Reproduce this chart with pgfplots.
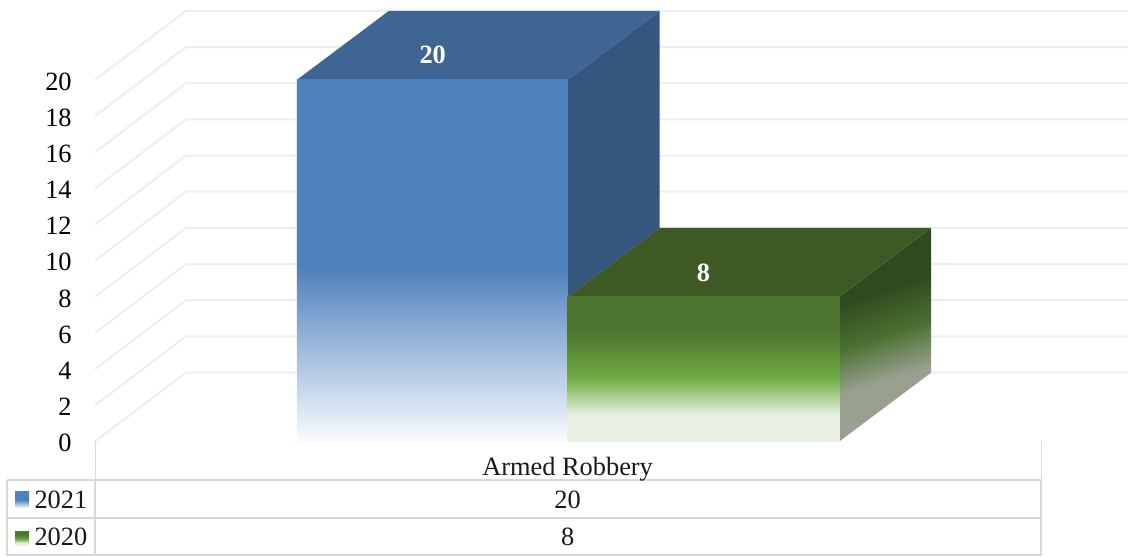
\documentclass[border=0pt]{standalone}
\usepackage{fontspec}
\setmainfont{Liberation Serif}
\usepackage{pgfplots}
\pgfplotsset{compat=1.18}

\definecolor{gridc}{HTML}{EEEEEE}
\definecolor{tablec}{HTML}{D9D9D9}
\definecolor{bluetop}{HTML}{3F6595}
\definecolor{blueside}{HTML}{34567F}
\definecolor{greentop}{HTML}{3D5A25}
\definecolor{bfMain}{HTML}{4F81BD}
\definecolor{bfLow}{HTML}{FAFCFE}
\definecolor{gfTop}{HTML}{4E752F}
\definecolor{gfMid}{HTML}{6FAC43}
\definecolor{gfLow}{HTML}{E8F1E2}
\definecolor{gsDark}{HTML}{2F4A1E}
\definecolor{gsMid}{HTML}{4A7030}
\definecolor{gsLow}{HTML}{9AA08F}

\pgfdeclareverticalshading{bluefront}{100bp}{
  color(0bp)=(bfLow); color(25bp)=(bfLow);
  color(49bp)=(bfMain); color(100bp)=(bfMain)}
\pgfdeclareverticalshading{greenfront}{100bp}{
  color(0bp)=(gfLow); color(34bp)=(gfLow); color(47bp)=(gfMid);
  color(63bp)=(gfTop); color(100bp)=(gfTop)}
\pgfdeclareverticalshading{greenside}{100bp}{
  color(0bp)=(gsLow); color(38bp)=(gsLow); color(50bp)=(gsMid);
  color(62bp)=(gsDark); color(100bp)=(gsDark)}

\begin{document}
\begin{tikzpicture}
\begin{axis}[
  x=0.5pt, y=9.05pt,
  xmin=0, xmax=1129,
  ymin=-6.36, ymax=24.415,
  axis line style={draw=none},
  xtick=\empty,
  ytick={0,2,...,20},
  major tick length=0pt,
  y tick label style={anchor=east, xshift=39.3pt, yshift=-0.8pt},
  tick label style={font=\fontsize{13.2}{15}\selectfont},
  /pgf/number format/assume math mode=true,
  clip=false,
]
% back wall and floor grid, depth offset is 92px / 3.81 units
\addplot[gridc, line width=1pt, unbounded coords=jump, forget plot] coordinates {
  (95,20) (186,23.81) (1129,23.81) (95,nan)
  (95,18) (186,21.81) (1129,21.81) (95,nan)
  (95,16) (186,19.81) (1129,19.81) (95,nan)
  (95,14) (186,17.81) (1129,17.81) (95,nan)
  (95,12) (186,15.81) (1129,15.81) (95,nan)
  (95,10) (186,13.81) (1129,13.81) (95,nan)
  (95,8) (186,11.81) (1129,11.81) (95,nan)
  (95,6) (186,9.81) (1129,9.81) (95,nan)
  (95,4) (186,7.81) (1129,7.81) (95,nan)
  (95,2) (186,5.81) (1129,5.81) (95,nan)
  (95,0) (186,3.81) (1129,3.81)
};
% 2021
\addplot[draw=none, fill=blueside] coordinates {(568,20) (660,23.81) (660,11.81) (568,8)} -- cycle;
\addplot[draw=none, fill=bluetop] coordinates {(297,20) (568,20) (660,23.81) (389,23.81)} -- cycle;
\addplot[draw=none, shading=bluefront] coordinates {(297,0) (568,0) (568,20) (297,20)} -- cycle;
% 2020
\addplot[draw=none, shading=greenside, shading angle=18] coordinates {(840,0) (932,3.81) (932,11.81) (840,8)} -- cycle;
\addplot[draw=none, fill=greentop] coordinates {(568,8) (840,8) (932,11.81) (660,11.81)} -- cycle;
\addplot[draw=none, shading=greenfront] coordinates {(568,0) (840,0) (840,8) (568,8)} -- cycle;

\node[text=white, font=\fontsize{13.2}{15}\selectfont\bfseries] at (axis cs:433,21.38) {20};
\node[text=white, font=\fontsize{13.2}{15}\selectfont\bfseries] at (axis cs:704,9.337) {8};

% data table under the chart
\draw[tablec, line width=0.5pt] (axis cs:95,0) -- (axis cs:95,-2.155);
\draw[tablec, line width=0.5pt] (axis cs:1042,0) -- (axis cs:1042,-2.155);
\draw[tablec, line width=1pt] (axis cs:7,-2.155) -- (axis cs:1042,-2.155);
\draw[tablec, line width=1pt] (axis cs:7,-4.254) -- (axis cs:1042,-4.254);
\draw[tablec, line width=1pt] (axis cs:7,-6.3) -- (axis cs:1042,-6.3);
\draw[tablec, line width=1pt] (axis cs:7,-2.155) -- (axis cs:7,-6.3);
\draw[tablec, line width=1pt] (axis cs:95,-2.155) -- (axis cs:95,-6.3);
\draw[tablec, line width=1pt] (axis cs:1042,-2.155) -- (axis cs:1042,-6.3);

\path[shading=bluefront] (axis cs:15,-2.78) rectangle (axis cs:29,-3.67);
\path[shading=greenfront] (axis cs:15,-4.97) rectangle (axis cs:29,-5.75);

\begin{scope}[every node/.style={font=\fontsize{13.2}{15}\selectfont, text=black!90}]
\node at (axis cs:568,-1.55) {Armed Robbery};
\node[anchor=west, inner sep=0pt] at (axis cs:34,-3.204) {2021};
\node[anchor=west, inner sep=0pt] at (axis cs:34,-5.304) {2020};
\node at (axis cs:568,-3.204) {20};
\node at (axis cs:568,-5.304) {8};
\end{scope}
\end{axis}
\end{tikzpicture}
\end{document}
